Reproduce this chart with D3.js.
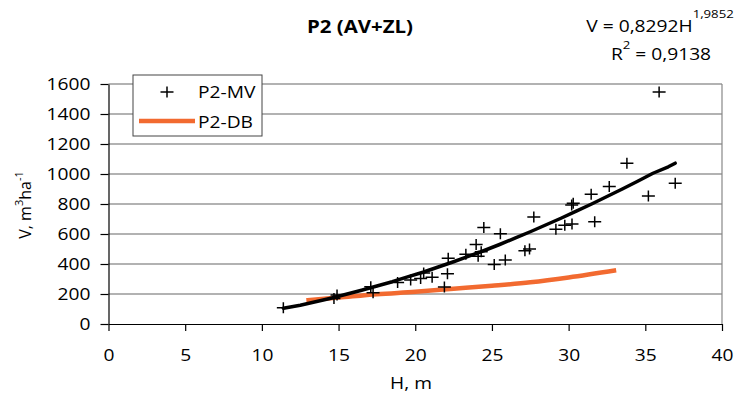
<!DOCTYPE html>
<html><head><meta charset="utf-8">
<script src="https://cdn.jsdelivr.net/npm/d3@7"></script>
<style>
body{margin:0;background:#fff}
text{font-family:"Open Sans",sans-serif;fill:#000}
</style>
</head><body>
<svg id="c" width="737" height="398"></svg>
<script>
// ---- data ----
const mvH = [11.4,14.7,14.9,17.1,17.25,18.85,19.7,20.35,20.55,21.1,21.9,22.1,22.15,23.3,23.97,24.1,24.3,24.47,25.15,25.55,25.87,27.15,27.45,27.73,29.17,29.75,30.22,30.2,30.3,31.47,31.7,32.65,33.8,35.2,35.9,36.95];
const mvV = [108,170,193,249,208,277,293,304,340,311,247,335,438,465,530,452,482,643,396,602,427,489,500,714,631,658,667,793,805,865,682,916,1071,853,1547,938];
const dbH = [12.9,15,17.5,20,22.5,25,27.5,30,33.1];
const dbV = [158,176,198,215,235,255,278,310,358];
const fitH = [11.4,12.5,13.5,14.5,15.5,16.5,17.5,18.5,19.5,20.5,21.5,22.5,23.5,24.5,25.5,26.5,27.5,28.5,29.5,30.5,31.5,32.5,33.5,34.5,35.5,36.5,36.95];
const fitV = [105,125,148,172,198,225,253,282,314,345,380,415,452,490,530,572,615,660,705,752,800,850,900,952,1005,1048,1072];
const xTicks = [0,5,10,15,20,25,30,35,40];
const yTicks = [0,200,400,600,800,1000,1200,1400,1600];
const chartTitle = "P2 (AV+ZL)";
const seriesNames = ["P2-MV","P2-DB"];
const eqMain = "V = 0,8292H", eqExp = "1,9852", r2Text = " = 0,9138";

const SX = 1.2;          // horizontal stretch of the reference text
const ORANGE = "#F26A30";

const svg = d3.select("#c");
svg.append("rect").attr("width",737).attr("height",398).attr("fill","#fff");

const x = d3.scaleLinear().domain([0,40]).range([108.5,722]);
const y = d3.scaleLinear().domain([0,1600]).range([324,84]);

// gridlines
svg.append("g").selectAll("line").data(yTicks.filter(d=>d>0)).join("line")
  .attr("x1",x(0)).attr("x2",x(40)).attr("y1",d=>y(d)).attr("y2",d=>y(d))
  .attr("stroke","#666").attr("stroke-width",1.2);
svg.append("line").attr("x1",x(40)).attr("x2",x(40)).attr("y1",y(1600)).attr("y2",y(0))
  .attr("stroke","#888").attr("stroke-width",1.2);

// axes
const gx = svg.append("g").attr("transform",`translate(0,${y(0)})`)
  .call(d3.axisBottom(x).tickValues(xTicks).tickFormat(d3.format("d")).tickSize(7).tickSizeOuter(0));
gx.selectAll("text").attr("y",0).attr("dy",0)
  .attr("transform",`translate(0,37) scale(${SX},1)`).style("font-size","16px");
const gy = svg.append("g").attr("transform",`translate(${x(0)},0)`)
  .call(d3.axisLeft(y).tickValues(yTicks).tickFormat(d3.format("d")).tickSize(8).tickSizeOuter(0));
gy.selectAll("text").attr("x",0).attr("dy","0.36em")
  .attr("transform",`translate(-18,0) scale(${SX},1)`).style("font-size","16px");
svg.selectAll(".domain,.tick line").attr("stroke","#000").attr("stroke-width",1.2);
svg.selectAll(".tick text").attr("fill","#000").style("font-family","'Open Sans',sans-serif");

// series
const dbData = dbH.map((h,i)=>[h,dbV[i]]);
svg.append("path").datum(dbData)
  .attr("d",d3.line().x(d=>x(d[0])).y(d=>y(d[1])).curve(d3.curveMonotoneX))
  .attr("fill","none").attr("stroke",ORANGE).attr("stroke-width",4.5);
const fitData = fitH.map((h,i)=>[h,fitV[i]]);
svg.append("path").datum(fitData)
  .attr("d",d3.line().x(d=>x(d[0])).y(d=>y(d[1])))
  .attr("fill","none").attr("stroke","#000").attr("stroke-width",3.5).attr("stroke-linejoin","round").attr("stroke-linecap","round");
const plus = "M-6.5,0H6.5M0,-5.5V5.5";
svg.append("g").selectAll("path").data(mvH.map((h,i)=>[h,mvV[i]])).join("path")
  .attr("transform",d=>`translate(${x(d[0])},${y(d[1])})`)
  .attr("d",plus).attr("stroke","#000").attr("stroke-width",1.5).attr("fill","none");

// legend
const lg = svg.append("g");
lg.append("rect").attr("x",133).attr("y",75).attr("width",129).attr("height",61)
  .attr("fill","#fff").attr("stroke","#444").attr("stroke-width",1);
lg.append("path").attr("transform","translate(167,92)").attr("d",plus)
  .attr("stroke","#000").attr("stroke-width",1.5);
lg.append("line").attr("x1",139).attr("x2",195).attr("y1",121).attr("y2",121)
  .attr("stroke",ORANGE).attr("stroke-width",4.5);
lg.selectAll("text.lt").data(seriesNames).join("text").attr("class","lt")
  .attr("transform",(d,i)=>`translate(198,${98+i*29.5}) scale(${SX},1)`)
  .style("font-size","16px").text(d=>d);

// title
svg.append("text").attr("transform",`translate(360,33) scale(${SX},1)`)
  .attr("text-anchor","middle").style("font-size","17px").style("font-weight","bold").text(chartTitle);

// equation
const e1 = svg.append("text").attr("transform",`translate(660,32) scale(${SX},1)`)
  .attr("text-anchor","middle").style("font-size","16px");
e1.append("tspan").text(eqMain);
e1.append("tspan").attr("dy",-14).style("font-size","11px").text(eqExp);
const e2 = svg.append("text").attr("transform",`translate(661,60) scale(${SX},1)`)
  .attr("text-anchor","middle").style("font-size","16px");
e2.append("tspan").text("R");
e2.append("tspan").attr("dy",-11).style("font-size","11px").text("2");
e2.append("tspan").attr("dy",11).text(r2Text);

// axis titles
svg.append("text").attr("transform",`translate(411,389) scale(${SX},1)`)
  .attr("text-anchor","middle").style("font-size","16px").text("H, m");
const yl = svg.append("text").attr("transform","translate(31,205) rotate(-90)")
  .attr("text-anchor","middle").style("font-size","16px");
yl.append("tspan").text("V, m");
yl.append("tspan").attr("dy",-8).style("font-size","11px").text("3");
yl.append("tspan").attr("dy",8).text("ha");
yl.append("tspan").attr("dy",-8).style("font-size","11px").text("-1");
</script>
</body></html>
